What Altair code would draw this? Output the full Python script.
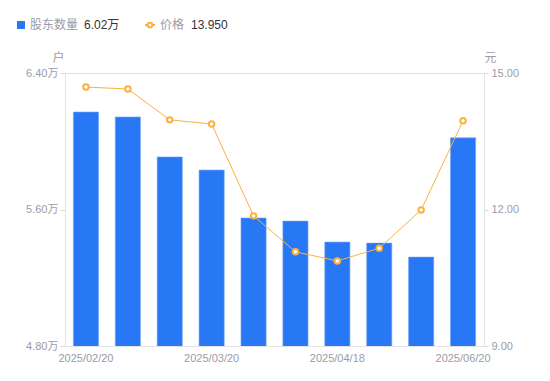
import altair as alt
import pandas as pd

dates = ["2025/02/20", "2025/02/28", "2025/03/10", "2025/03/20", "2025/03/31",
         "2025/04/10", "2025/04/18", "2025/04/30", "2025/05/20", "2025/06/20"]
holders = [6.171, 6.142, 5.908, 5.831, 5.550, 5.532, 5.409, 5.403, 5.321, 6.02]
prices = [14.69, 14.65, 13.97, 13.88, 11.86, 11.07, 10.87, 11.15, 11.99, 13.95]
shown_dates = [dates[0], dates[3], dates[6], dates[9]]

FONT = "Liberation Sans, Noto Sans CJK SC"
GRAY = "#9b9ba8"
BLUE = "#2878f5"
ORANGE = "#f9b23e"

df = pd.DataFrame({"date": dates, "holders": holders, "price": prices})

x = alt.X("date:N", sort=dates, title=None,
          scale=alt.Scale(paddingInner=0.4, paddingOuter=0.2),
          axis=alt.Axis(values=shown_dates, labelAngle=0, ticks=False,
                        labelColor=GRAY, labelFontSize=11, labelFont=FONT,
                        labelPadding=6, domainColor="#e3e3e8", labelOverlap=False))

bars = alt.Chart(df).mark_bar(color=BLUE, stroke="#6ea3f7", strokeWidth=0.6, clip=True).encode(
    x=x,
    y=alt.Y("holders:Q", scale=alt.Scale(domain=[4.8, 6.4], zero=False, nice=False),
            axis=alt.Axis(values=[4.8, 5.6, 6.4], labelExpr="format(datum.value, '.2f') + '万'",
                          title="户", titleAngle=0, titleX=-7, titleY=-16, titleAlign="center",
                          titleBaseline="middle",
                          titleColor=GRAY, titleFontSize=12, titleFontWeight="normal", titleFont=FONT,
                          labelColor=GRAY, labelFontSize=11, labelFont=FONT, grid=False,
                          tickSize=5, tickColor="#d6d6dc", domainColor="#e3e3e8", labelPadding=2,
                          orient="left")),
)

line = alt.Chart(df).mark_line(
    color=ORANGE, strokeWidth=1,
    point=alt.OverlayMarkDef(filled=False, fill="white", stroke=ORANGE, strokeWidth=2, size=30, opacity=1),
).encode(
    x=alt.X("date:N", sort=dates),
    y=alt.Y("price:Q", scale=alt.Scale(domain=[9, 15], zero=False, nice=False),
            axis=alt.Axis(values=[9, 12, 15], format=".2f", orient="right",
                          title="元", titleAngle=0, titleX=6, titleY=-16, titleAlign="center",
                          titleBaseline="middle",
                          titleColor=GRAY, titleFontSize=12, titleFontWeight="normal", titleFont=FONT,
                          labelColor=GRAY, labelFontSize=11, labelFont=FONT, grid=False,
                          tickSize=4, tickColor="#d6d6dc", domainColor="#e3e3e8", labelPadding=3)),
)

# legend (custom, drawn in pixel space above the plot)
leg_sq = alt.Chart(pd.DataFrame({"k": [0]})).mark_square(color=BLUE, size=64, opacity=1).encode(
    x=alt.value(-44), y=alt.value(-48))
leg_t1 = alt.Chart(pd.DataFrame({"t": ["股东数量"]})).mark_text(
    align="left", baseline="middle", fontSize=12, font=FONT, color=GRAY).encode(
    x=alt.value(-35), y=alt.value(-48), text="t:N")
leg_v1 = alt.Chart(pd.DataFrame({"t": ["6.02万"]})).mark_text(
    align="left", baseline="middle", fontSize=12, font=FONT, color="#333333").encode(
    x=alt.value(19), y=alt.value(-48), text="t:N")
leg_ln = alt.Chart(pd.DataFrame({"k": [0]})).mark_rule(color=ORANGE, strokeWidth=2).encode(
    x=alt.value(80), x2=alt.value(90), y=alt.value(-48))
leg_pt = alt.Chart(pd.DataFrame({"k": [0]})).mark_point(
    shape="circle", filled=False, fill="white", stroke=ORANGE, strokeWidth=2, size=22, opacity=1).encode(
    x=alt.value(85), y=alt.value(-48))
leg_t2 = alt.Chart(pd.DataFrame({"t": ["价格"]})).mark_text(
    align="left", baseline="middle", fontSize=12, font=FONT, color=GRAY).encode(
    x=alt.value(95), y=alt.value(-48), text="t:N")
leg_v2 = alt.Chart(pd.DataFrame({"t": ["13.950"]})).mark_text(
    align="left", baseline="middle", fontSize=12, font=FONT, color="#333333").encode(
    x=alt.value(126), y=alt.value(-48), text="t:N")

chart = alt.layer(bars, line, leg_sq, leg_t1, leg_v1, leg_ln, leg_pt, leg_t2, leg_v2).resolve_scale(
    y="independent"
).properties(
    width=419, height=273,
    autosize=alt.AutoSizeParams(type="none"),
    padding={"left": 57, "top": 65, "right": 58, "bottom": 27},
).configure_view(stroke=None).configure(background="white")

chart.save("out.html", embed_options={"renderer": "svg", "actions": False})
